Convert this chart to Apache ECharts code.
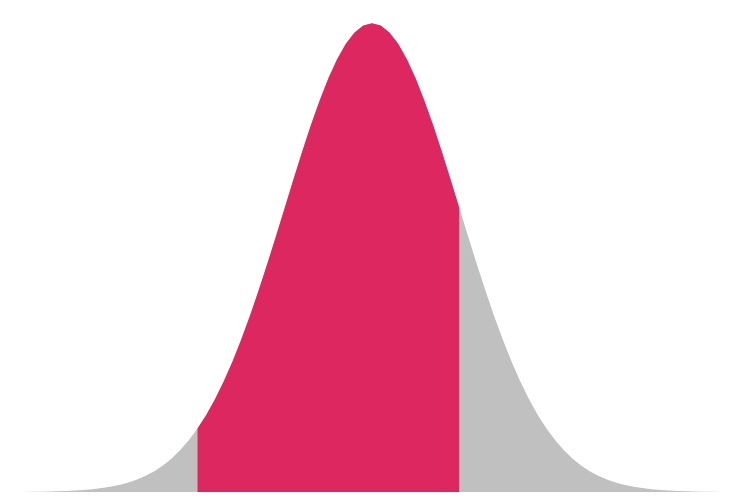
<!DOCTYPE html>
<html>
<head>
<meta charset="utf-8">
<script src="https://cdn.jsdelivr.net/npm/echarts@6/dist/echarts.min.js"></script>
<style>html,body{margin:0;padding:0;background:#fff}#c{width:756px;height:504px}</style>
</head>
<body>
<div id="c"></div>
<script>
var xs = [-4.0,-3.9,-3.8,-3.7,-3.6,-3.5,-3.4,-3.3,-3.2,-3.1,-3.0,-2.9,-2.8,-2.7,-2.6,-2.5,-2.4,-2.3,-2.2,-2.1,
  -2.0,-1.9,-1.8,-1.7,-1.6,-1.5,-1.4,-1.3,-1.2,-1.1,-1.0,-0.9,-0.8,-0.7,-0.6,-0.5,-0.4,-0.3,-0.2,-0.1,
  0.0,0.1,0.2,0.3,0.4,0.5,0.6,0.7,0.8,0.9,1.0,1.1,1.2,1.3,1.4,1.5,1.6,1.7,1.8,1.9,
  2.0,2.1,2.2,2.3,2.4,2.5,2.6,2.7,2.8,2.9,3.0,3.1,3.2,3.3,3.4,3.5,3.6,3.7,3.8,3.9,4.0];
var density = [0.0001,0.0002,0.0003,0.0004,0.0006,0.0009,0.0012,0.0017,0.0024,0.0033,0.0044,0.0060,0.0079,0.0104,0.0136,0.0175,0.0224,0.0283,0.0355,0.0440,
  0.0540,0.0656,0.0790,0.0940,0.1109,0.1295,0.1497,0.1714,0.1942,0.2179,0.2420,0.2661,0.2897,0.3123,0.3332,0.3521,0.3683,0.3814,0.3910,0.3970,
  0.3989,0.3970,0.3910,0.3814,0.3683,0.3521,0.3332,0.3123,0.2897,0.2661,0.2420,0.2179,0.1942,0.1714,0.1497,0.1295,0.1109,0.0940,0.0790,0.0656,
  0.0540,0.0440,0.0355,0.0283,0.0224,0.0175,0.0136,0.0104,0.0079,0.0060,0.0044,0.0033,0.0024,0.0017,0.0012,0.0009,0.0006,0.0004,0.0003,0.0002,0.0001];
var shadeFrom = -2.0;
var shadeTo = 1.0;

var full = xs.map(function (x, i) { return [x, density[i]]; });
var shaded = full.filter(function (p) { return p[0] >= shadeFrom - 1e-9 && p[0] <= shadeTo + 1e-9; });

var chart = echarts.init(document.getElementById('c'), null, {renderer: 'canvas'});
chart.setOption({
  animation: false,
  grid: {left: 23, right: 35, top: 22, bottom: 12},
  xAxis: {type: 'value', min: -4, max: 4, show: false},
  yAxis: {type: 'value', min: 0, max: 0.4, show: false},
  series: [
    {type: 'line', data: full, symbol: 'none', lineStyle: {width: 0},
     areaStyle: {color: '#c0c0c0', opacity: 1}, silent: true},
    {type: 'line', data: shaded, symbol: 'none', lineStyle: {width: 0},
     areaStyle: {color: '#dd2761', opacity: 1}, silent: true}
  ]
});
</script>
</body>
</html>
